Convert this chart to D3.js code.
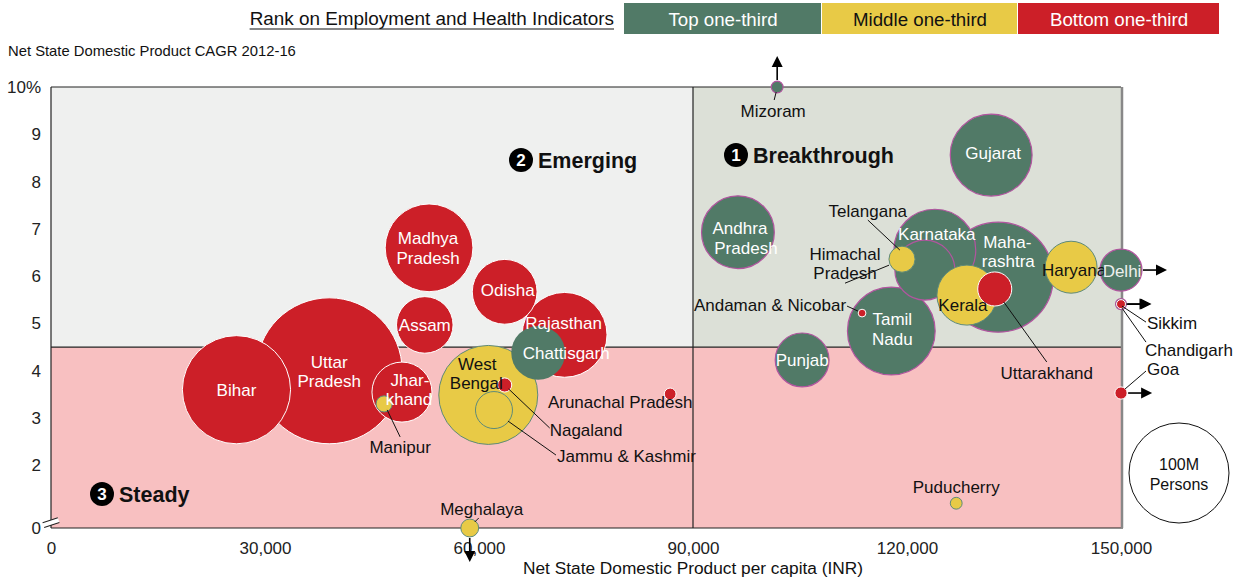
<!DOCTYPE html>
<html>
<head>
<meta charset="utf-8">
<script src="https://cdn.jsdelivr.net/npm/d3@7"></script>
<style>
  body { margin: 0; background: #fff; }
  svg text { font-family: "Liberation Sans", Arial, Helvetica, sans-serif; }
</style>
</head>
<body>
<svg id="chart" width="1241" height="582"></svg>
<script>
// values (population in millions, CAGR in %, NSDP per capita in INR)
const states = ["Bihar", "Uttar Pradesh", "Jharkhand", "Manipur", "Madhya Pradesh", "Assam", "Odisha",
  "Rajasthan", "Chattisgarh", "West Bengal", "Jammu & Kashmir", "Nagaland", "Arunachal Pradesh", "Meghalaya",
  "Mizoram", "Andhra Pradesh", "Telangana", "Himachal Pradesh", "Karnataka", "Maharashtra", "Kerala",
  "Uttarakhand", "Haryana", "Delhi", "Sikkim", "Chandigarh", "Goa", "Gujarat", "Tamil Nadu",
  "Andaman & Nicobar", "Punjab", "Puducherry"];
const nsdpPerCapita = [26000, 39000, 49200, 46700, 53000, 52400, 63600,
  72000, 68300, 61300, 62100, 63600, 86800, 58700,
  101800, 96300, 122500, 119300, 123900, 132800, 128400,
  132300, 143000, 249000, 210000, 220000, 240000, 131800, 117800,
  113700, 105300, 126900];
const nsdpCagr = [3.6, 4.0, 3.55, 3.3, 6.6, 4.97, 5.67,
  4.76, 4.38, 3.49, 3.17, 3.7, 3.51, -0.5,
  11.0, 6.93, 6.13, 6.36, 6.55, 5.98, 5.6,
  5.73, 6.19, 6.13, 5.41, 5.41, 3.53, 8.56, 4.84,
  5.22, 4.23, 1.2];
const population = [117, 213, 36, 2.6, 77, 32, 42,
  72, 29, 98, 13.7, 2.0, 1.4, 3.2,
  1.4, 53, 36, 6.8, 67, 121, 36,
  11.6, 27, 17.6, 1.2, 0.8, 1.5, 67, 77,
  0.6, 29, 1.4];
const rank = ["Bottom", "Bottom", "Bottom", "Middle", "Bottom", "Bottom", "Bottom",
  "Bottom", "Top", "Middle", "Middle", "Bottom", "Bottom", "Middle",
  "Top", "Top", "Top", "Middle", "Top", "Top", "Middle",
  "Bottom", "Middle", "Top", "Top", "Bottom", "Bottom", "Top", "Top",
  "Bottom", "Top", "Middle"];

const rankKeys = ["Top", "Middle", "Bottom"];
const rankLabels = ["Top one-third", "Middle one-third", "Bottom one-third"];
const xTicks = [0, 30000, 60000, 90000, 120000, 150000];
const yTicks = [0, 2, 3, 4, 5, 6, 7, 8, 9, 10];
const quadrantNames = ["Breakthrough", "Emerging", "Steady"];

const W = 1241, H = 582;
const plotL = 51, plotR = 1121, plotT = 87, plotB = 528;

const color = d3.scaleOrdinal().domain(rankKeys).range(["#517a67", "#e8ca46", "#cc1f28"]);
const textColor = d3.scaleOrdinal().domain(rankKeys).range(["#fff", "#111", "#fff"]);
const strokeColor = d3.scaleOrdinal().domain(rankKeys).range(["#b1559f", "#5e8a7a", "#fff"]);

const x = d3.scaleLinear().domain([0, 150000]).range([plotL, plotR]).clamp(true);
// broken axis: the 0-1 band is squeezed
const y = d3.scaleLinear().domain([0, 1, 10]).range([plotB, 512.7, plotT]).clamp(true);
const r = d3.scaleSqrt().domain([0, 100]).range([0, 50]);

const svg = d3.select("#chart");

// quadrant panels
svg.append("rect").attr("x", plotL).attr("y", plotT)
  .attr("width", x(90000) - plotL).attr("height", y(4.5) - plotT).attr("fill", "#eff0ef");
svg.append("rect").attr("x", x(90000)).attr("y", plotT)
  .attr("width", plotR - x(90000)).attr("height", y(4.5) - plotT).attr("fill", "#dce0d7");
svg.append("rect").attr("x", plotL).attr("y", y(4.5))
  .attr("width", plotR - plotL).attr("height", plotB - y(4.5)).attr("fill", "#f8c0c1");

const lines = svg.append("g").attr("stroke", "#222").attr("stroke-width", 1.2);
lines.append("line").attr("x1", plotL).attr("x2", plotR).attr("y1", plotT).attr("y2", plotT);
lines.append("line").attr("x1", plotL).attr("x2", plotR).attr("y1", y(4.5)).attr("y2", y(4.5));
lines.append("line").attr("x1", x(90000)).attr("x2", x(90000)).attr("y1", plotT).attr("y2", plotB);
lines.append("line").attr("x1", plotL).attr("x2", plotL).attr("y1", plotT).attr("y2", plotB);
lines.append("line").attr("x1", plotL).attr("x2", plotR + 2).attr("y1", plotB).attr("y2", plotB);
svg.append("line").attr("x1", plotR + 1).attr("x2", plotR + 1).attr("y1", plotT).attr("y2", plotB)
  .attr("stroke", "#888").attr("stroke-width", 2.5);

// axis break marks
const brk = svg.append("g").attr("transform", `translate(${plotL},${y(0.35)}) rotate(-18)`);
brk.append("rect").attr("x", -8).attr("y", -2.5).attr("width", 16).attr("height", 5).attr("fill", "#fff");
brk.append("line").attr("x1", -8).attr("x2", 8).attr("y1", -2.5).attr("y2", -2.5).attr("stroke", "#222");
brk.append("line").attr("x1", -8).attr("x2", 8).attr("y1", 2.5).attr("y2", 2.5).attr("stroke", "#222");

// axes
const yAxis = svg.append("g").attr("transform", `translate(${plotL},0)`)
  .call(d3.axisLeft(y).tickValues(yTicks).tickSize(0).tickPadding(10)
    .tickFormat(d => d === 10 ? "10%" : d));
yAxis.select(".domain").remove();
yAxis.selectAll("text").attr("font-size", 17).attr("fill", "#222")
  .attr("font-family", "Liberation Sans, Arial, sans-serif");

const xAxis = svg.append("g").attr("transform", `translate(0,${plotB})`)
  .call(d3.axisBottom(x).tickValues(xTicks).tickSize(0).tickPadding(14).tickFormat(d3.format(",")));
xAxis.select(".domain").remove();
xAxis.selectAll("text").attr("font-size", 17).attr("fill", "#222")
  .attr("font-family", "Liberation Sans, Arial, sans-serif");

svg.append("text").attr("x", 8).attr("y", 56).attr("font-size", 14.8).attr("fill", "#111")
  .text("Net State Domestic Product CAGR 2012-16");
svg.append("text").attr("x", 693).attr("y", 574).attr("font-size", 17.3)
  .attr("fill", "#111").attr("text-anchor", "middle")
  .text("Net State Domestic Product per capita (INR)");

// quadrant titles
const quadPos = [[736, 155], [521, 160], [102, 494]];
quadrantNames.forEach((name, i) => {
  const g = svg.append("g").attr("transform", `translate(${quadPos[i][0]},${quadPos[i][1]})`);
  g.append("circle").attr("r", 12).attr("fill", "#000");
  g.append("text").attr("text-anchor", "middle").attr("dy", "0.36em").attr("fill", "#fff")
    .attr("font-size", 17).attr("font-weight", "bold").text(i + 1);
  g.append("text").attr("x", 17).attr("dy", "0.36em").attr("fill", "#111")
    .attr("font-size", 21.5).attr("font-weight", "bold").text(name);
});

// bubbles
const data = states.map((s, i) => ({
  name: s, px: nsdpPerCapita[i], g: nsdpCagr[i], pop: population[i], rank: rank[i]
}));
const sorted = data.slice().sort((a, b) => b.pop - a.pop);

svg.append("g").selectAll("circle").data(sorted).join("circle")
  .attr("cx", d => x(d.px)).attr("cy", d => y(d.g)).attr("r", d => r(d.pop))
  .attr("fill", d => color(d.rank))
  .attr("stroke", d => (d.rank === "Top" && d.px < 90000) ? "none" : strokeColor(d.rank))
  .attr("stroke-width", d => d.rank === "Top" ? 1.2 : 1);

// off-scale arrows
const arrows = svg.append("g");
data.forEach(d => {
  let ux = 0, uy = 0;
  if (d.px > x.domain()[1]) ux = 1;
  else if (d.g > 10) uy = -1;
  else if (d.g < 0) uy = 1;
  else return;
  const cx = x(d.px), cy = y(d.g), rr = r(d.pop) + 1;
  const sx = cx + ux * rr, sy = cy + uy * rr;
  const tx = sx + ux * 24, ty = sy + uy * 24;
  arrows.append("line").attr("x1", sx).attr("y1", sy)
    .attr("x2", tx - ux * 9).attr("y2", ty - uy * 9)
    .attr("stroke", "#000").attr("stroke-width", 1.6);
  const bx = tx - ux * 11, by = ty - uy * 11, px = -uy * 5.5, py = ux * 5.5;
  arrows.append("path").attr("fill", "#000")
    .attr("d", `M${tx},${ty}L${bx + px},${by + py}L${bx - px},${by - py}Z`);
});

// label placement relative to each bubble centre: lines [text, dx, dy], optional leader
const labelLayout = {
  "Bihar": { lines: [["Bihar", 0, 0]] },
  "Uttar Pradesh": { lines: [["Uttar", 0, -9], ["Pradesh", 0, 10]] },
  "Jharkhand": { lines: [["Jhar-", 8, -12], ["khand", 7, 7]] },
  "Madhya Pradesh": { lines: [["Madhya", -1, -10], ["Pradesh", -1, 10]] },
  "Assam": { lines: [["Assam", 0, 0]] },
  "Odisha": { lines: [["Odisha", 3, -2]] },
  "Rajasthan": { lines: [["Rajasthan", -1, -12]] },
  "Chattisgarh": { lines: [["Chattisgarh", 28, 0]] },
  "West Bengal": { lines: [["West", -11, -31], ["Bengal", -12, -12]] },
  "Andhra Pradesh": { lines: [["Andhra", 2, -4], ["Pradesh", 8, 16]] },
  "Gujarat": { lines: [["Gujarat", 2, -2]] },
  "Karnataka": { lines: [["Karnataka", 2, -16]] },
  "Maharashtra": { lines: [["Maha-", 9, -35], ["rashtra", 10, -16]] },
  "Kerala": { lines: [["Kerala", -4, 10]] },
  "Haryana": { lines: [["Haryana", 3, 3]] },
  "Delhi": { lines: [["Delhi", 1, 1]], fill: "#eef0ee" },
  "Tamil Nadu": { lines: [["Tamil", 1, -12], ["Nadu", 1, 8]] },
  "Punjab": { lines: [["Punjab", 0, 0]] },
  "Mizoram": { lines: [["Mizoram", -4, 24]], out: true, leader: [-1, 5, -3, 13] },
  "Telangana": { lines: [["Telangana", -57, -59]], out: true, leader: [-57, -50, -25, -20] },
  "Himachal Pradesh": { lines: [["Himachal", -57, -5], ["Pradesh", -57, 14]], out: true, leader: [-57, 24, -13, 6] },
  "Andaman & Nicobar": { lines: [["Andaman & Nicobar", -16, -8]], out: true, anchor: "end", leader: [-15, -7, -4, -2] },
  "Uttarakhand": { lines: [["Uttarakhand", 52, 84]], out: true, leader: [9, 13, 52, 73] },
  "Sikkim": { lines: [["Sikkim", 26, 19]], out: true, anchor: "start", leader: [1, 2, 25, 18] },
  "Chandigarh": { lines: [["Chandigarh", 24, 46]], out: true, anchor: "start", leader: [1, 4, 25, 38] },
  "Goa": { lines: [["Goa", 26, -24]], out: true, anchor: "start", leader: [4, -4, 25, -22] },
  "Arunachal Pradesh": { lines: [["Arunachal Pradesh", -50, 8]], out: true },
  "Nagaland": { lines: [["Nagaland", 45, 45]], out: true, anchor: "start", leader: [4, 4, 45, 43] },
  "Jammu & Kashmir": { lines: [["Jammu & Kashmir", 63, 46]], out: true, anchor: "start", leader: [14, 11, 62, 45] },
  "Manipur": { lines: [["Manipur", 16, 43]], out: true, leader: [3, 6, 16, 33] },
  "Meghalaya": { lines: [["Meghalaya", 12, -19]], out: true, leader: [5, -6, 9, -10] },
  "Puducherry": { lines: [["Puducherry", 0, -16]], out: true }
};

const labels = svg.append("g");
data.forEach(d => {
  const L = labelLayout[d.name];
  if (!L) return;
  const cx = x(d.px), cy = y(d.g);
  if (L.leader) {
    labels.append("line")
      .attr("x1", cx + L.leader[0]).attr("y1", cy + L.leader[1])
      .attr("x2", cx + L.leader[2]).attr("y2", cy + L.leader[3])
      .attr("stroke", "#111").attr("stroke-width", 1);
  }
  L.lines.forEach(([t, dx, dy]) => {
    labels.append("text")
      .attr("x", cx + dx).attr("y", cy + dy).attr("dy", "0.35em")
      .attr("text-anchor", L.anchor || "middle")
      .attr("font-size", 17)
      .attr("fill", L.out ? "#111" : (L.fill || textColor(d.rank)))
      .text(t);
  });
});

// size legend
const lg = svg.append("g").attr("transform", "translate(1179,473)");
lg.append("circle").attr("r", r(100)).attr("fill", "#fff").attr("stroke", "#111").attr("stroke-width", 1);
lg.append("text").attr("text-anchor", "middle").attr("y", -9).attr("dy", "0.35em")
  .attr("font-size", 16).attr("fill", "#111").text("100M");
lg.append("text").attr("text-anchor", "middle").attr("y", 11).attr("dy", "0.35em")
  .attr("font-size", 16).attr("fill", "#111").text("Persons");

// colour legend
const legTitle = svg.append("text").attr("x", 614).attr("y", 25).attr("text-anchor", "end")
  .attr("font-size", 18.9).attr("fill", "#111").text("Rank on Employment and Health Indicators");
const tw = legTitle.node().getComputedTextLength();
svg.append("line").attr("x1", 614 - tw).attr("x2", 614).attr("y1", 29).attr("y2", 29)
  .attr("stroke", "#111").attr("stroke-width", 1.2);

const boxW = [198, 196, 202];
let bx = 624;
rankKeys.forEach((k, i) => {
  svg.append("rect").attr("x", bx).attr("y", 3).attr("width", boxW[i] - 1).attr("height", 31)
    .attr("fill", color(k));
  svg.append("text").attr("x", bx + boxW[i] / 2).attr("y", 19).attr("dy", "0.35em")
    .attr("text-anchor", "middle").attr("font-size", 18.7).attr("fill", textColor(k))
    .text(rankLabels[i]);
  bx += boxW[i];
});
</script>
</body>
</html>
